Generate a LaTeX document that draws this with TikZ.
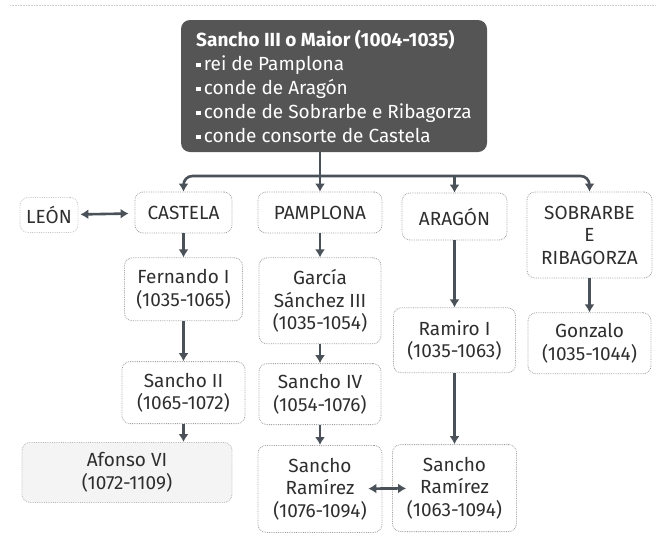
\documentclass[tikz,border=0pt]{standalone}
\usepackage{fontspec}
\setmainfont{Fira Sans}
\usetikzlibrary{arrows.meta,positioning}

\definecolor{inkgray}{HTML}{4B5159}
\definecolor{headfill}{HTML}{555555}
\newcommand{\bul}{\rule[0.3ex]{4.5pt}{4.5pt}\,}

\begin{document}
\begin{tikzpicture}[
  x=1pt,y=-1pt,
  node distance=24pt and 20pt,
  kbox/.style={draw=gray!75,densely dotted,line width=0.8pt,rounded corners=8pt,
    align=center,font=\fontsize{19}{22.5}\selectfont,text=black!82,inner sep=2pt},
  link/.style={inkgray,line width=2.6pt,-{Latex[length=8pt,width=10pt]}},
  dlink/.style={inkgray,line width=2.6pt,{Latex[length=8pt,width=10pt]}-{Latex[length=8pt,width=10pt]}}
]
  \useasboundingbox (0,0) rectangle (666,541);
  \draw[gray!40,densely dotted,line width=0.6pt] (10,5) -- (656,5);

  % head of the family
  \node[fill=headfill,rounded corners=9pt,text=white,align=left,
    minimum width=306pt,minimum height=132pt,inner sep=4pt,
    font=\fontsize{19}{24}\selectfont] (sancho3) at (334,86)
    {\textbf{Sancho III o Maior (1004-1035)}\\
     \bul rei de Pamplona\\
     \bul conde de Aragón\\
     \bul conde de Sobrarbe e Ribagorza\\
     \bul conde consorte de Castela};

  % kingdoms and counties
  \node[kbox,draw=gray!45,minimum width=58pt,minimum height=35pt] (leon) at (49,215) {LEÓN};
  \node[kbox,minimum width=97pt,minimum height=41pt] (castela) at (183.5,212.5) {CASTELA};
  \node[kbox,minimum width=124pt,minimum height=41pt] (pamplona) at (320,212.5) {PAMPLONA};
  \node[kbox,minimum width=105pt,minimum height=47pt] (aragon) at (454.5,216.5) {ARAGÓN};
  \node[kbox,minimum width=125pt,minimum height=86pt] (sobrarbe) at (589.5,235) {SOBRARBE\\E\\RIBAGORZA};

  % Castela
  \node[kbox,minimum width=118pt,minimum height=63pt,below=24pt of castela] (fernando) {Fernando I\\(1035-1065)};
  \node[kbox,minimum width=123pt,minimum height=62pt,below=40pt of fernando] (sancho2) {Sancho II\\(1065-1072)};
  \node[kbox,draw=gray!55,fill=gray!9,minimum width=210pt,minimum height=60pt,
    below=18pt of sancho2,xshift=-56.5pt] (afonso) {Afonso VI\\(1072-1109)};

  % Pamplona
  \node[kbox,minimum width=122pt,minimum height=86pt,below=24pt of pamplona] (garcia) {García\\Sánchez III\\(1035-1054)};
  \node[kbox,minimum width=122pt,minimum height=61pt,below=19pt of garcia] (sancho4) {Sancho IV\\(1054-1076)};
  \node[kbox,minimum width=124pt,minimum height=87pt,below=20pt of sancho4] (srl) {Sancho\\Ramírez\\(1076-1094)};

  % Aragón
  \node[kbox,minimum width=122pt,minimum height=65pt,below=67pt of aragon] (ramiro) {Ramiro I\\(1035-1063)};
  \node[kbox,minimum width=124pt,minimum height=87pt,below=71pt of ramiro] (srr) {Sancho\\Ramírez\\(1063-1094)};

  % Sobrarbe e Ribagorza
  \node[kbox,minimum width=123pt,minimum height=61pt,below=34pt of sobrarbe] (gonzalo) {Gonzalo\\(1035-1044)};

  % bus from the head
  \coordinate (bus) at (320,176);
  \draw[inkgray,line width=2.6pt] (sancho3.south -| bus) -- (bus);
  \draw[link,rounded corners=9pt] (bus) -| (castela);
  \draw[link,rounded corners=9pt] (bus) -| (sobrarbe);
  \draw[link] (bus) -- (pamplona);
  \draw[link] (bus -| aragon) -- (aragon);

  % successions
  \draw[dlink,shorten <=2pt,shorten >=6pt] (leon) -- (castela);
  \draw[link] (castela) -- (fernando);
  \draw[link] (fernando) -- (sancho2);
  \draw[link] (sancho2) -- (sancho2 |- afonso.north);
  \draw[link] (pamplona) -- (garcia);
  \draw[link] (garcia) -- (sancho4);
  \draw[link] (sancho4) -- (srl);
  \draw[link] (aragon) -- (ramiro);
  \draw[link] (ramiro) -- (srr);
  \draw[link] (sobrarbe) -- (gonzalo);
  \draw[dlink,shorten <=-14pt,shorten >=-14pt] (srl) -- (srr);
\end{tikzpicture}
\end{document}
